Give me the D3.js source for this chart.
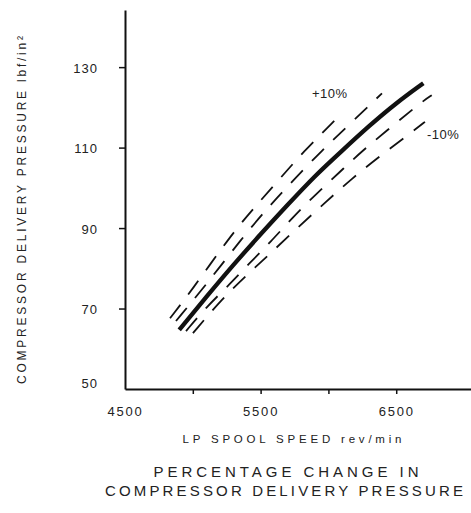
<!DOCTYPE html>
<html>
<head>
<meta charset="utf-8">
<script src="https://cdn.jsdelivr.net/npm/d3@7"></script>
<style>
  html, body { margin: 0; padding: 0; background: #fff; }
  svg { display: block; font-family: "Liberation Sans", Arial, Helvetica, sans-serif; }
</style>
</head>
<body>
<svg id="chart" width="471" height="513"></svg>
<script>
// ---- data ----
const baseRpm = [4900, 5100, 5300, 5500, 5700, 5900, 6100, 6300, 6500, 6700];
const basePressure = [64.7, 72.9, 80.9, 88.5, 95.8, 103.0, 109.2, 115.4, 121.1, 126.0];

const plus10Rpm = [4832, 4987, 5274, 5433, 5617, 5813, 6063];
const plus10Pressure = [67.6, 74.3, 87.9, 94.3, 101.3, 108.9, 117.3];

const plus5Rpm = [4876, 5100, 5361, 5549, 5741, 5956, 6141, 6395];
const plus5Pressure = [66.9, 76.0, 87.4, 94.9, 101.9, 109.4, 115.3, 123.5];

const minus5Rpm = [4950, 5101, 5254, 5416, 5575, 5735, 5901, 6080, 6246, 6473, 6690, 6762];
const minus5Pressure = [64.4, 70.4, 75.4, 81.2, 86.6, 92.6, 98.2, 103.8, 109.1, 115.4, 121.4, 123.0];

const minus10Rpm = [5001, 5219, 5403, 5560, 5772, 5969, 6172, 6388, 6644, 6712];
const minus10Pressure = [63.9, 72.5, 78.5, 83.3, 90.1, 96.1, 102.3, 108.1, 114.6, 116.4];

const xTicks = [4500, 5000, 5500, 6000, 6500];
const xTickLabels = ["4500", "", "5500", "", "6500"];
const yTicks = [50, 70, 90, 110, 130];
const yTickLabels = ["50", "70", "90", "110", "130"];

const xAxisTitle = "LP SPOOL SPEED  rev/min";
const yAxisTitle = "COMPRESSOR DELIVERY PRESSURE lbf/in²";
const chartTitle = ["PERCENTAGE CHANGE IN", "COMPRESSOR DELIVERY PRESSURE"];
const plusLabel = "+10%";
const minusLabel = "-10%";

// ---- drawing ----
const svg = d3.select("#chart");
const ink = "#111";

const x = d3.scaleLinear().domain([4500, 7050]).range([125, 470.8]);
const y = d3.scaleLinear().domain([50, 144.2]).range([389, 10]);

const zip = (a, b) => a.map((v, i) => [v, b[i]]);
const line = d3.line().x(d => x(d[0])).y(d => y(d[1])).curve(d3.curveBasis);

// axes
const yAxis = d3.axisLeft(y).tickValues(yTicks)
  .tickFormat((d, i) => yTickLabels[i]).tickSize(6).tickSizeOuter(0).tickPadding(21);
const gy = svg.append("g").attr("transform", "translate(125,0)").call(yAxis);
gy.select(".domain").attr("stroke", ink).attr("stroke-width", 2);
gy.selectAll(".tick line").attr("stroke", ink).attr("stroke-width", 1.5)
  .attr("opacity", d => d === 50 ? 0 : 1);
gy.selectAll(".tick text").attr("fill", "#222").attr("font-size", 13)
  .attr("letter-spacing", 1).attr("font-family", "Liberation Sans, Arial, sans-serif")
  .attr("dy", d => d === 50 ? "-0.12em" : "0.4em");

const xAxis = d3.axisBottom(x).tickValues(xTicks)
  .tickFormat((d, i) => xTickLabels[i]).tickSize(5).tickSizeOuter(0).tickPadding(13);
const gx = svg.append("g").attr("transform", "translate(0,389)").call(xAxis);
gx.select(".domain").attr("stroke", ink).attr("stroke-width", 2);
gx.selectAll(".tick line").attr("stroke", ink).attr("stroke-width", 1.5)
  .attr("opacity", d => d === 4500 ? 0 : 1);
gx.selectAll(".tick text").attr("fill", "#222").attr("font-size", 13)
  .attr("letter-spacing", 1.8).attr("font-family", "Liberation Sans, Arial, sans-serif");

// dashed lines
const dashed = [
  zip(plus10Rpm, plus10Pressure),
  zip(plus5Rpm, plus5Pressure),
  zip(minus5Rpm, minus5Pressure),
  zip(minus10Rpm, minus10Pressure)
];
svg.append("g").selectAll("path").data(dashed).join("path")
  .attr("d", line)
  .attr("fill", "none")
  .attr("stroke", ink)
  .attr("stroke-width", 1.8)
  .attr("stroke-dasharray", "17,13");

// baseline solid
svg.append("path")
  .attr("d", line(zip(baseRpm, basePressure)))
  .attr("fill", "none")
  .attr("stroke", ink)
  .attr("stroke-width", 4.3)
  .attr("stroke-linecap", "butt");

// labels on curves
svg.append("text").attr("x", x(plus10Rpm[plus10Rpm.length - 1]) - 25).attr("y", y(plus10Pressure[plus10Pressure.length - 1]) - 20)
  .attr("font-size", 13).attr("fill", "#222").attr("letter-spacing", 0.5).text(plusLabel);
svg.append("text").attr("x", x(minus10Rpm[minus10Rpm.length - 1]) + 2).attr("y", y(minus10Pressure[minus10Pressure.length - 1]) + 17)
  .attr("font-size", 13).attr("fill", "#222").attr("letter-spacing", 0.5).text(minusLabel);

// axis titles
svg.append("text")
  .attr("transform", "translate(26,210) rotate(-90)")
  .attr("text-anchor", "middle")
  .attr("font-size", 12)
  .attr("fill", "#222")
  .attr("textLength", 348).attr("lengthAdjust", "spacing")
  .text(yAxisTitle);

svg.append("text")
  .attr("x", 292).attr("y", 443)
  .attr("text-anchor", "middle")
  .attr("font-size", 11.5)
  .attr("fill", "#222")
  .attr("textLength", 219).attr("lengthAdjust", "spacing")
  .text(xAxisTitle);

svg.append("text").attr("x", 286).attr("y", 477)
  .attr("text-anchor", "middle").attr("font-size", 15).attr("fill", "#222")
  .attr("textLength", 265).attr("lengthAdjust", "spacing")
  .text(chartTitle[0]);
svg.append("text").attr("x", 284).attr("y", 496)
  .attr("text-anchor", "middle").attr("font-size", 15).attr("fill", "#222")
  .attr("textLength", 358).attr("lengthAdjust", "spacing")
  .text(chartTitle[1]);
</script>
</body>
</html>
